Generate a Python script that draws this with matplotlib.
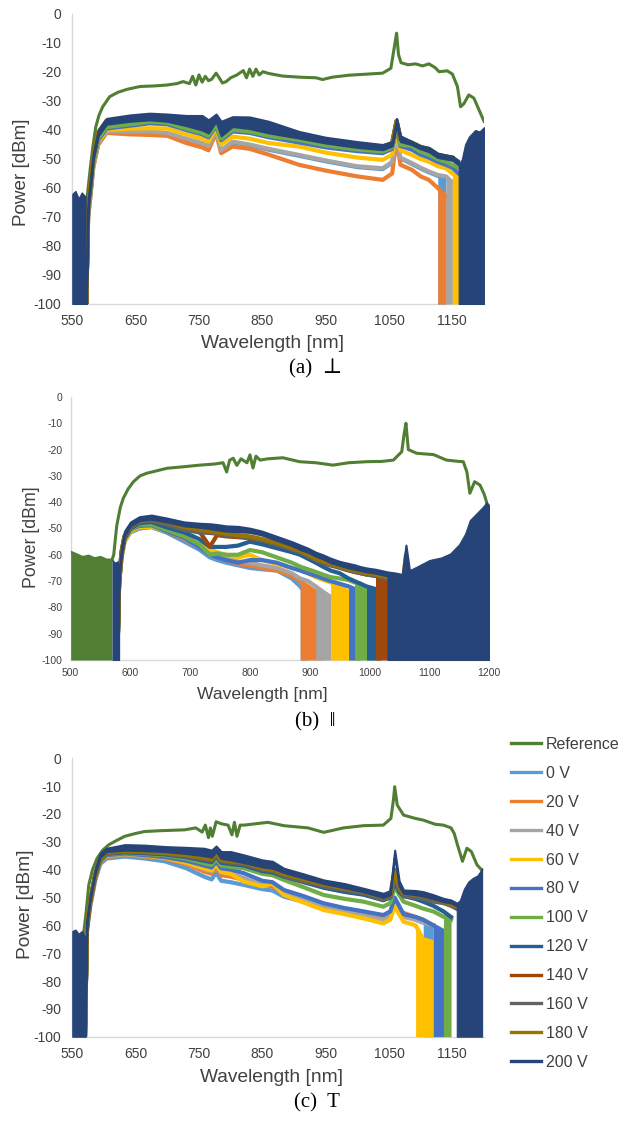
import numpy as np
import matplotlib.pyplot as plt
from matplotlib.lines import Line2D

plt.rcParams['font.family'] = ['Liberation Sans', 'DejaVu Sans']
plt.rcParams['axes.unicode_minus'] = False

nan = np.nan

#------------------------------------------------------------------------------#
# series names / colours (Excel palette)
volts = ['0 V', '20 V', '40 V', '60 V', '80 V', '100 V', '120 V', '140 V',
         '160 V', '180 V', '200 V']
colors = ['#5B9BD5', '#ED7D31', '#A5A5A5', '#FFC000', '#4472C4', '#70AD47',
          '#255E91', '#9E480E', '#636363', '#997300', '#264478']
ref_color = '#507E32'
navy = colors[-1]

#------------------------------------------------------------------------------#
# (a) perpendicular
ref_wl_a = [571, 575, 579, 583, 587, 592, 598, 609, 622, 636, 657, 680, 699, 715, 725,
            735, 740, 745, 750, 755, 760, 765, 770, 777, 782, 787, 793, 800, 810, 820,
            825, 830, 835, 840, 845, 851, 860, 882, 910, 935, 945, 960, 987, 1010, 1040,
            1053, 1058, 1062, 1065, 1069, 1080, 1092, 1103, 1113, 1123, 1129, 1142, 1150,
            1158, 1163, 1168, 1176, 1184, 1192, 1200]
ref_a = [-68, -60, -52, -45, -39, -35, -32, -28.5, -27, -26, -25, -24.8, -24.5, -24, -23.3,
         -24, -21.5, -24.5, -21, -23.5, -21.5, -23, -22.5, -20.4, -22, -23.8, -23.3, -22, -21,
         -19.5, -22, -19, -21.5, -19, -21, -19.9, -20.5, -21.4, -21.8, -22, -22.6, -21.8,
         -21.1, -20.8, -20.4, -18.7, -12, -6.6, -14, -16.8, -17.5, -17.2, -17.9, -17.2, -18.5,
         -19.9, -19.6, -20.7, -25, -32, -31, -27.9, -29, -33, -37]

wl_a = [572, 575, 579, 583, 591, 604, 641, 672, 700, 730, 755, 765, 777, 785, 803, 830, 860,
        908, 950, 1000, 1040, 1055, 1062, 1068, 1086, 1100, 1113, 1127, 1140, 1150, 1160]
a_0 = [-100, -69.8, -61.8, -52.8, -44.8, -40.8, -40.8, -40.8, -41.3, -43.3, -44.8, -45.8, -40.3,
       -47.3, -44.3, -45.3, -46.8, -48.9, -50.8, -52.8, -53.5, -51.3, -42.3, -49.8, -51.7, -53.3,
       -54.6, -55.8, -56.3, nan, nan]
a_20 = [-100, -70, -62, -53, -45, -41, -41.5, -41.7, -42, -44.5, -46, -47, -41, -48, -45.7,
        -46.5, -48.5, -52, -54, -56, -57.2, -55, -43, -52, -53.7, -56, -57.2, -60, -62.9, nan, nan]
a_40 = [-100, -69.5, -61.5, -52.5, -44.5, -40.5, -40.5, -40.5, -41, -43, -44.5, -45.5, -40, -47,
        -44, -45, -46.5, -48.6, -50.5, -52.5, -53.2, -51, -42, -49.5, -51.4, -53, -54.3, -55.5,
        -56, -58, nan]
a_60 = [-100, -69, -61, -52, -44, -40, -39.5, -39.4, -39.5, -41.5, -43, -44, -39, -45, -42.3,
        -43, -44.5, -45.7, -47.8, -49.5, -50.3, -48.5, -40, -47, -48.6, -50, -50.9, -52.5, -53.2,
        -55, -56]
a_80 = [-100, -68.5, -60.5, -51.5, -43.5, -39.5, -38.5, -37.7, -38, -40, -41.5, -42.5, -38.5,
        -43.5, -40.5, -41, -42.5, -44.3, -46, -47.3, -48, -46.5, -39, -45.5, -46.8, -48.5, -49.5,
        -51, -52, -53, -55]
a_100 = [-100, -68, -60, -51, -43, -39, -38, -37.1, -37.5, -39.5, -41, -42, -38, -43, -39.9,
         -40.5, -42, -43.4, -45.3, -46.7, -47.4, -46, -38, -45, -45.5, -47.5, -48.5, -50, -51,
         -52, -53]
a_120 = [-100, -65.8, -57.8, -49.2, -41.2, -37.2, -36.1, -35.5, -35.9, -37, -37.8, -39, -36,
         -39.8, -37.3, -37.8, -39.2, -41.8, -43.7, -45.2, -46.1, -44.9, -37.2, -43.2, -44.7,
         -46.2, -46.9, -48.9, -49.5, -49.9, nan]
a_140 = [-100, -65.6, -57.6, -49, -41, -37, -35.9, -35.3, -35.7, -36.8, -37.6, -38.8, -35.8,
         -39.6, -37.1, -37.6, -39, -41.6, -43.5, -45, -45.9, -44.7, -37, -43, -44.5, -46, -46.7,
         -48.7, -49.3, -49.7, nan]
a_160 = [-100, -65.5, -57.5, -48.9, -40.9, -36.9, -35.8, -35.2, -35.6, -36.6, -37.4, -38.6,
         -35.7, -39.4, -36.9, -37.4, -38.9, -41.5, -43.4, -44.9, -45.8, -44.6, -36.9, -42.9,
         -44.4, -45.9, -46.6, -48.6, -49.2, -49.6, nan]
a_180 = [-100, -65.3, -57.3, -48.8, -40.8, -36.8, -35.7, -35.1, -35.5, -36.5, -37.3, -38.5,
         -35.6, -39.3, -36.8, -37.3, -38.8, -41.4, -43.3, -44.8, -45.7, -44.5, -36.8, -42.8,
         -44.3, -45.8, -46.5, -48.5, -49.1, -49.5, nan]
a_200_hi = [-100, -64, -56, -48, -40, -36, -34.8, -34.2, -34.5, -35, -35, -36.5, -34.5, -37,
            -35.4, -35.5, -37, -40.5, -42.5, -44, -45, -44, -36, -42, -44, -45.5, -46, -48,
            -48.6, -49, -50.5]
a_200_lo = [-100, -67, -59, -50, -42, -38, -37, -36.5, -37, -38.5, -40, -41, -37, -42, -38.8,
            -39.5, -41, -42.8, -44.5, -46, -46.8, -45.5, -38, -44, -45, -46.5, -47.5, -49.5,
            -50, -50.5, -52]
cut_a = [1127, 1127, 1140, 1150, None, None, None, None, None, None]
floor_a = [([550, 555, 560, 565, 571], [-62, -61, -63.5, -61.5, -63]),
           ([1160, 1165, 1170, 1176, 1186, 1193, 1200], [-52, -50, -45, -42.3, -40, -40.5, -39])]

#------------------------------------------------------------------------------#
# (b) parallel
ref_wl_b = [500, 510, 520, 530, 540, 550, 560, 569, 572, 577, 583, 588, 596, 605, 616, 627,
            645, 661, 690, 716, 740, 755, 761, 766, 772, 778, 785, 795, 800, 805, 810, 817,
            830, 855, 883, 910, 939, 965, 995, 1020, 1040, 1054, 1058, 1061, 1065, 1079, 1107,
            1129, 1150, 1157, 1163, 1168, 1176, 1185, 1192, 1196, 1200]
ref_b = [-59, -60, -61, -60.5, -61.5, -61, -62, -62, -60, -49, -42, -38.5, -35, -32.2, -30,
         -29, -28, -27.1, -26.5, -25.9, -25.5, -25, -28.5, -24, -23.3, -26, -23.5, -25, -22,
         -27, -22.5, -24, -23.5, -23.1, -24.6, -25, -25.9, -25, -24.6, -24.5, -24, -20.8, -14,
         -10, -20, -21.4, -21.9, -24, -24.5, -24.6, -28.5, -36.6, -32.2, -33.5, -37, -40, -52]

wl_b = [578, 581, 585, 590, 600, 615, 635, 660, 690, 715, 733, 745, 760, 780, 800, 820, 845,
        870, 884, 897, 910, 922, 935, 950, 965, 975, 985, 995, 1010, 1020, 1030, 1045, 1055,
        1061, 1067]
b_0 = [-100, -71, -61, -55, -51.5, -50, -49.5, -51.5, -55, -58, -61, -62, -63, -64, -65, -65.5,
       -66, -69, -72, -76] + [nan] * 15
b_20 = [-100, -71, -61, -55, -51, -49.5, -49, -51, -54, -57, -60, -61, -62, -63.5, -64, -65,
        -66, -68, -70, -72, -74, -76] + [nan] * 13
b_40 = [-100, -71, -61, -55, -51, -49, -48.5, -49.5, -53.5, -57, -59, -60, -61, -62.5, -63,
        -64, -65, -67, -69, -70, -72, -74, -76] + [nan] * 12
b_60 = [-100, -71, -61, -55, -51, -49.5, -49.3, -51, -53, -56, -58, -59, -60, -61, -60, -62,
        -63.5, -65, -65.8, -67, -68.5, -69.5, -70.5, -72, -74, -76] + [nan] * 9
b_80 = [-100, -71, -60, -54, -50.5, -49, -48.8, -51, -53.5, -57, -60, -61, -62, -63, -62, -62,
        -63, -65, -66, -67, -68, -69, -70, -71, -72, -73, -74] + [nan] * 8
b_100 = [-100, -71, -60, -54, -50.5, -48.5, -48.5, -50.5, -53, -56, -60, -59.5, -60, -60,
         -58.2, -59, -61, -63, -64.5, -65.5, -66.5, -67.5, -68.5, -69, -69.6, -70.5, -71, -73,
         -75] + [nan] * 6
b_120 = [-100, -70, -60, -54, -50, -48, -47.5, -49.5, -51.5, -54, -57, -57, -57, -56.5, -55,
         -56, -57.5, -59, -60, -61.5, -63, -64.5, -66, -67, -69, -70, -71, -72, -73, -74] + [nan] * 5
b_140 = [-100, -70, -59, -53, -49.5, -47.5, -46.8, -48, -50, -51, -56.9, -52.5, -53, -53.3,
         -53.7, -54.5, -56, -57.5, -58.2, -60, -61.5, -63, -64, -64.5, -65.8, -66.5, -67,
         -67.5, -68, -69, -70] + [nan] * 4
b_160 = [-100, -70, -59, -53, -49.5, -47.5, -47, -48.5, -50.5, -51.5, -51.7, -52, -52.5, -53,
         -53.5, -54.5, -56, -58, -59, -60.5, -62, -63, -64, -65, -66, -66.5, -67, -67.5, -68,
         -68.5, -69, -71] + [nan] * 3
b_180 = [-100, -70, -59, -53, -49, -47, -46.5, -47.5, -49.5, -50.5, -51, -51.5, -52, -52.5,
         -53, -54, -55.5, -57.5, -58.5, -60, -61.5, -62.5, -63.5, -64.5, -65.5, -66, -66.5,
         -67, -67.5, -68, -68.5, -70, -72, -60, -75]
b_200_hi = [-100, -66, -57, -51, -47.5, -45.5, -44.9, -46, -47.5, -48, -48.2, -48.5, -49,
            -49.2, -49.9, -51, -53, -55, -56.3, -57.5, -59, -60, -61.3, -62.5, -63.3, -63.8,
            -64.5, -65, -65.5, -66, -66.5, -67, -67.5, -56.3, -66]
b_200_lo = [-100, -69, -60, -53, -49, -47, -46.5, -47.5, -49, -49.5, -50, -50.5, -51, -51.2,
            -51.5, -52.5, -54.5, -56.5, -58, -59, -60.5, -61.5, -63, -64, -65, -65.5, -66,
            -66.5, -67, -67.5, -68, -68.5, -69, -60, -68]
cut_b = [884, 884, 910, 935, 965, 975, 995, 1010, 1030, 1045]
floor_b = [([570, 574, 578, 581], [-62, -63, -62.5, -64]),
           ([1030, 1045, 1055, 1060, 1061, 1063, 1070, 1079, 1100, 1120, 1135, 1150, 1160,
             1168, 1180, 1190, 1196, 1200],
            [-66.5, -67, -67.5, -66, -56.3, -66, -65.5, -64.5, -62, -61, -59.5, -56, -52,
             -46.8, -44, -41.7, -40, -41])]

#------------------------------------------------------------------------------#
# (c) T
ref_wl_c = [567, 572, 576, 582, 589, 598, 608, 620, 633, 650, 664, 690, 727, 745, 755, 760,
            765, 768, 771, 774, 777, 785, 796, 802, 806, 810, 815, 821, 840, 859, 884, 922,
            947, 978, 1010, 1041, 1053, 1057, 1059, 1063, 1073, 1090, 1104, 1123, 1136, 1148,
            1153, 1158, 1166, 1173, 1180, 1189, 1196]
ref_c = [-64.7, -55, -45.5, -40, -36, -33, -31, -29.5, -28, -27, -26.3, -26, -25.7, -25,
         -26.5, -24, -28.5, -25, -28, -25.5, -22.8, -23.5, -24, -27.5, -23, -28, -24, -24,
         -23.5, -23, -24.2, -25, -26.6, -25, -24.2, -24, -21.6, -15, -10.2, -16.8, -20.4,
         -21.5, -22.2, -23.7, -24, -25, -27, -31, -37, -32.3, -33.5, -38.3, -40]

wl_c = [570, 573, 578, 586, 594, 604, 633, 665, 696, 730, 758, 770, 777, 785, 800, 821, 850,
        866, 884, 915, 947, 980, 1010, 1041, 1052, 1059, 1066, 1073, 1092, 1104, 1120, 1136,
        1148, 1157]
c_0 = [-100, -62.5, -53.5, -44, -38, -36, -35.3, -36, -37, -39.5, -42.5, -43.5, -41, -44,
       -44.5, -45.5, -47, -47.5, -49.7, -51.5, -53, -55, -56, -57, -56, -52, -55, -56, -58,
       -59, -60, nan, nan, nan]
c_20 = [-100, -62, -53, -43.5, -37.5, -35.5, -34.8, -35.3, -36, -38, -40.7, -41.5, -39, -42,
        -42.5, -43.7, -45.5, -46, -48, -51, -53.5, -55, -56, -57, -56, -52, -55, -55.5, -57,
        -58, -60, nan, nan, nan]
c_40 = [-100, -61.5, -52.5, -43, -37.2, -35.2, -34.5, -35, -35.2, -37.5, -39.8, -40.5, -38.5,
        -41, -41.5, -43, -45.5, -45, -48.5, -50.8, -53, -55, -56.5, -58, -57, -51, -55, -57,
        -58, -59, -60, nan, nan, nan]
c_60 = [-100, -61.5, -52.5, -43, -37, -35, -34.3, -35, -35.8, -37.5, -39.5, -40.3, -38, -40.8,
        -41.5, -44.3, -46, -45, -49.1, -51.8, -54.5, -56, -57.5, -59.3, -58, -53, -56, -58.7,
        -60, -65, -66, nan, nan, nan]
c_80 = [-100, -61.5, -52.5, -43, -37, -34.8, -34.2, -34.8, -35.5, -36.8, -38.5, -39.2, -37,
        -39.5, -40, -41.3, -44, -44.5, -47.3, -49.5, -52.1, -53.8, -55, -56.3, -55, -50, -53,
        -56, -57, -58, -60, -62, nan, nan]
c_100 = [-100, -61, -52, -42.5, -36.5, -34.5, -34, -34.4, -34.8, -36, -37.7, -38.3, -36,
         -38.5, -39, -39.5, -41.5, -42, -43.7, -46.3, -49.1, -50.5, -51.5, -53.3, -52, -46,
         -49, -51.5, -53, -54, -55, -56.9, -58, nan]
c_120 = [-100, -61, -52, -42.5, -36.3, -34.3, -33.8, -34.1, -34.5, -35.5, -36.8, -37.3, -35,
         -37.5, -38, -38.5, -40.5, -41, -42.5, -44.5, -46.5, -48, -49, -51, -50, -44, -48,
         -49.5, -50.5, -51.5, -53, -55, -57, nan]
c_140 = [-100, -60.5, -51.5, -42, -36, -34, -33.5, -33.7, -34, -35, -36, -36.5, -34.2, -36.8,
         -37.2, -37.7, -39.8, -40.3, -41.9, -43.8, -45.5, -46.8, -47.9, -50.3, -49.5, -42, -46,
         -49, -49.5, -50, -51, -51.5, -52.7, -54]
c_160 = [-100, -60.5, -51.5, -42, -36, -34, -33.5, -33.8, -34.3, -35.2, -36.3, -36.8, -34.5,
         -37, -37.5, -38, -40, -40.5, -42.3, -44.2, -46, -47.3, -48.5, -50.8, -49.8, -43, -47,
         -49.5, -50, -50.5, -51.5, -52, -53, -54]
c_180 = [-100, -60.5, -51.5, -42, -36, -33.8, -33.3, -33.6, -34, -34.8, -35.8, -36.3, -34,
         -36.5, -37, -37.5, -39.5, -40, -41.5, -43.5, -45.3, -46.7, -48, -50, -49, -40, -46.5,
         -48.5, -49, -49.5, -50.5, -51.5, -52.5, -53]
c_200_hi = [-100, -58, -49.7, -40.1, -34.1, -32.3, -31, -31.2, -31.7, -32, -32.3, -33, -31.5,
            -33.5, -33.5, -34.7, -36.5, -37, -39.5, -41.5, -43.7, -45, -46.7, -48.5, -47.5,
            -33, -44, -47.3, -47.5, -47.9, -49, -50.3, -50.9, -52]
c_200_lo = [-100, -60, -51, -41.5, -35.5, -33.5, -33, -33.2, -33.5, -34.2, -35, -35.5, -33.5,
            -36, -36.5, -37.5, -39, -39.5, -41, -43, -45, -46.5, -48, -50, -49, -35, -46,
            -48.5, -49, -49.5, -50.5, -51.5, -52, -53]
cut_c = [1104, None, None, 1092, 1120, 1136, None, None, None, None]
floor_c = [([550, 555, 560, 565, 570], [-62, -61.5, -63, -62, -64]),
           ([1157, 1162, 1168, 1175, 1182, 1190, 1197], [-52, -50.9, -47, -44.3, -43, -42, -39.5])]

#------------------------------------------------------------------------------#

def draw_panel(ax, ref_wl, ref, wl, series, hi, lo, cuts, floors, xlim, xticks,
               tick_fs, ref_floor=None):
    # draw in series order, like the spreadsheet does: later series on top
    ref_wl = np.array(ref_wl)
    ref = np.array(ref)
    wl = np.array(wl)
    z = 2
    if ref_floor is not None:
        ax.fill_between(ref_wl, -100, ref, where=ref_wl <= ref_floor,
                        color=ref_color, lw=0, zorder=z)
    ax.plot(ref_wl, ref, color=ref_color, lw=2.2, zorder=z + 0.5)

    for vals, c, cut in zip(series, colors, cuts):
        z += 1
        y = np.array(vals, dtype=float)
        if cut is not None:
            ax.fill_between(wl, -100, y, where=wl >= cut, color=c, lw=0, zorder=z)
        ax.plot(wl, y, color=c, lw=3, zorder=z + 0.5)

    z += 1
    ax.fill_between(wl, lo, hi, color=navy, lw=1.5, edgecolor=navy, zorder=z)
    for fx, fy in floors:
        ax.fill_between(fx, -100, fy, color=navy, lw=0.8, edgecolor=navy, zorder=z)

    ax.set_xlim(*xlim)
    ax.set_ylim(-100, 0)
    ax.set_xticks(xticks)
    ax.set_yticks(np.arange(-100, 1, 10))
    ax.tick_params(length=0, labelsize=tick_fs, colors='#404040')
    ax.tick_params(axis='y', pad=tick_fs * 0.8)
    ax.tick_params(axis='x', pad=tick_fs * 0.75)
    for s in ['top', 'right']:
        ax.spines[s].set_visible(False)
    for s in ['left', 'bottom']:
        ax.spines[s].set_color('#d9d9d9')
        ax.spines[s].set_linewidth(1)
        ax.spines[s].set_zorder(0)


W, H = 634, 1121
fig = plt.figure(figsize=(W / 100, H / 100), dpi=100)

def add_axes(l, r, t, b):
    return fig.add_axes([l / W, 1 - b / H, (r - l) / W, (b - t) / H])

ax_a = add_axes(72.3, 484, 14, 304)
ax_b = add_axes(70.7, 489, 397, 660)
ax_c = add_axes(72.3, 484, 758.3, 1036.7)

draw_panel(ax_a, ref_wl_a, ref_a, wl_a,
           [a_0, a_20, a_40, a_60, a_80, a_100, a_120, a_140, a_160, a_180],
           a_200_hi, a_200_lo, cut_a, floor_a, (550, 1200), range(550, 1151, 100), 10)
draw_panel(ax_b, ref_wl_b, ref_b, wl_b,
           [b_0, b_20, b_40, b_60, b_80, b_100, b_120, b_140, b_160, b_180],
           b_200_hi, b_200_lo, cut_b, floor_b, (500, 1200), range(500, 1201, 100), 7.5,
           ref_floor=569)
draw_panel(ax_c, ref_wl_c, ref_c, wl_c,
           [c_0, c_20, c_40, c_60, c_80, c_100, c_120, c_140, c_160, c_180],
           c_200_hi, c_200_lo, cut_c, floor_c, (550, 1200), range(550, 1151, 100), 10)

# axis titles and captions
def ftext(x, y, s, **kw):
    fig.text(x / W, 1 - y / H, s, ha='center', va='center', **kw)

ftext(272.7, 343, 'Wavelength [nm]', fontsize=13.8, color='#404040')
ftext(262, 695, 'Wavelength [nm]', fontsize=12.6, color='#404040')
ftext(272, 1078, 'Wavelength [nm]', fontsize=13.8, color='#404040')
ftext(21.7, 172, 'Power [dBm]', fontsize=13.6, color='#404040', rotation=90)
ftext(31.7, 537, 'Power [dBm]', fontsize=12.8, color='#404040', rotation=90)
ftext(25, 904, 'Power [dBm]', fontsize=13.8, color='#404040', rotation=90)

serif = ['Liberation Serif', 'DejaVu Serif']
ftext(316, 369, '(a)  \u22a5', fontsize=15, family=serif)
ftext(315, 722, '(b)  \u2016', fontsize=15, family=serif)
ftext(317, 1103, '(c)  T', fontsize=15, family=serif)

# legend
handles = [Line2D([], [], color=ref_color, lw=2.4)] + \
          [Line2D([], [], color=c, lw=2.4) for c in colors]
fig.legend(handles, ['Reference'] + volts, loc='upper left',
           bbox_to_anchor=(511 / W, 1 - 737 / H), frameon=False, fontsize=11.5,
           handlelength=1.9, handletextpad=0.3, labelspacing=0.87,
           borderaxespad=0, borderpad=0, labelcolor='#404040')

plt.savefig('out.png', dpi=100)
